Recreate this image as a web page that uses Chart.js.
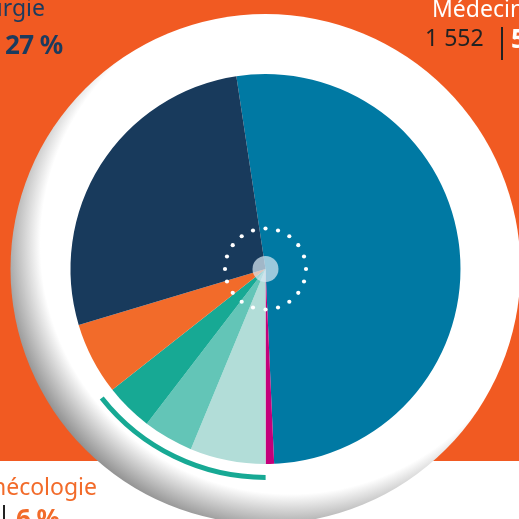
<!DOCTYPE html>
<html>
<head>
<meta charset="utf-8">
<script src="https://cdn.jsdelivr.net/npm/chart.js@4"></script>
<style>
  html, body { margin: 0; padding: 0; }
  body { width: 519px; height: 519px; overflow: hidden; position: relative; background: #ffffff; font-family: "Noto Sans", "Open Sans", sans-serif; }
  #bg { position: absolute; left: 0; top: 0; width: 519px; height: 461px; background: #f15a22; }
  #wrap { position: absolute; left: 0; top: 0; width: 519px; height: 519px; }
  .t { position: absolute; white-space: nowrap; line-height: 1; }
  .b { font-weight: 700; font-size: 26px; letter-spacing: -0.6px; }
</style>
</head>
<body>
<div id="bg"></div>
<div id="wrap"><canvas id="c" width="519" height="519"></canvas></div>

<div class="t" style="right:474px; top:-4px; font-size:23px; color:#1b3b5e;" id="lblNavy"></div>
<div class="t b" style="left:5px; top:31px; color:#1b3b5e;" id="pctNavy"></div>

<div class="t" style="left:432px; top:-3px; font-size:23px; color:#ffffff;" id="lblBlue"></div>
<div class="t" style="left:425px; top:26px; font-size:23px; color:#222222;" id="cntBlue"></div>
<div class="t" style="left:501px; top:27px; width:1.5px; height:33px; background:#222222;"></div>
<div class="t b" style="left:511px; top:25px; color:#ffffff;" id="pctBlue"></div>

<div class="t" style="right:422px; top:475px; font-size:23px; color:#f26b2a;" id="lblOrange"></div>
<div class="t" style="left:3px; top:505px; width:1.5px; height:20px; background:#222222;"></div>
<div class="t b" style="left:16px; top:505px; color:#f26b2a;" id="pctOrange"></div>

<script>
// ---- data ----
const categories = ['Médecine', 'Autre 1', 'Autre 2', 'Autre 3', 'Autre 4', 'Gynécologie', 'Chirurgie'];
const counts = [1552, 21, 188, 125, 119, 180, 818];
const percentLabels = ['52 %', '1 %', '6 %', '4 %', '4 %', '6 %', '27 %'];
const countLabels = ['1 552', '', '', '', '', '', ''];
const sliceColors = ['#0079a3', '#c4007a', '#b2ddd8', '#63c5b7', '#17a994', '#f26b2a', '#183a5c'];
const groupedSlices = [2, 3, 4]; // slices underlined by the teal arc

// ---- text ----
document.getElementById('lblNavy').textContent = categories[6];
document.getElementById('pctNavy').textContent = percentLabels[6];
document.getElementById('lblBlue').textContent = categories[0];
document.getElementById('cntBlue').textContent = countLabels[0];
document.getElementById('pctBlue').textContent = percentLabels[0];
document.getElementById('lblOrange').textContent = categories[5];
document.getElementById('pctOrange').textContent = percentLabels[5];

const decor = {
  id: 'decor',
  beforeDatasetsDraw(chart) {
    const el = chart.getDatasetMeta(0).data[0];
    if (!el) return;
    const ctx = chart.ctx;
    const cx = el.x, cy = el.y, R = el.outerRadius;
    const ringR = R + 60;
    ctx.save();
    const gx = cx + 25, gy = cy - 25, gr = ringR + 40;
    const g = ctx.createRadialGradient(gx, gy, 0, gx, gy, gr);
    g.addColorStop(0, '#ffffff');
    g.addColorStop((ringR - 5) / gr, '#ffffff');
    g.addColorStop(1, '#858585');
    ctx.beginPath();
    ctx.arc(cx, cy, ringR, 0, Math.PI * 2);
    ctx.fillStyle = g;
    ctx.fill();
    ctx.restore();
  },
  afterDatasetsDraw(chart) {
    const meta = chart.getDatasetMeta(0);
    const first = meta.data[groupedSlices[0]];
    const last = meta.data[groupedSlices[groupedSlices.length - 1]];
    if (!first) return;
    const ctx = chart.ctx;
    const cx = first.x, cy = first.y, R = first.outerRadius;
    ctx.save();
    // teal arc under grouped slices
    ctx.beginPath();
    ctx.arc(cx, cy, R + 13.5, first.startAngle, last.endAngle);
    ctx.strokeStyle = '#17a994';
    ctx.lineWidth = 5;
    ctx.lineCap = 'butt';
    ctx.stroke();
    // translucent centre
    ctx.beginPath();
    ctx.arc(cx, cy, 13, 0, Math.PI * 2);
    ctx.fillStyle = 'rgba(215,232,242,0.72)';
    ctx.fill();
    // dotted circle
    ctx.fillStyle = '#ffffff';
    const n = 20, dr = 40.5;
    for (let i = 0; i < n; i++) {
      const a = -Math.PI / 2 + i * 2 * Math.PI / n;
      ctx.beginPath();
      ctx.arc(cx + dr * Math.cos(a), cy + dr * Math.sin(a), 2.1, 0, Math.PI * 2);
      ctx.fill();
    }
    ctx.restore();
  }
};

new Chart(document.getElementById('c'), {
  type: 'pie',
  data: {
    labels: categories,
    datasets: [{
      data: counts,
      backgroundColor: sliceColors,
      borderWidth: 0,
      hoverOffset: 0
    }]
  },
  options: {
    responsive: false,
    animation: false,
    rotation: -8.6,
    layout: { padding: { left: 70, right: 58, top: 74, bottom: 55 } },
    plugins: { legend: { display: false }, tooltip: { enabled: false } },
    events: []
  },
  plugins: [decor]
});
</script>
</body>
</html>
